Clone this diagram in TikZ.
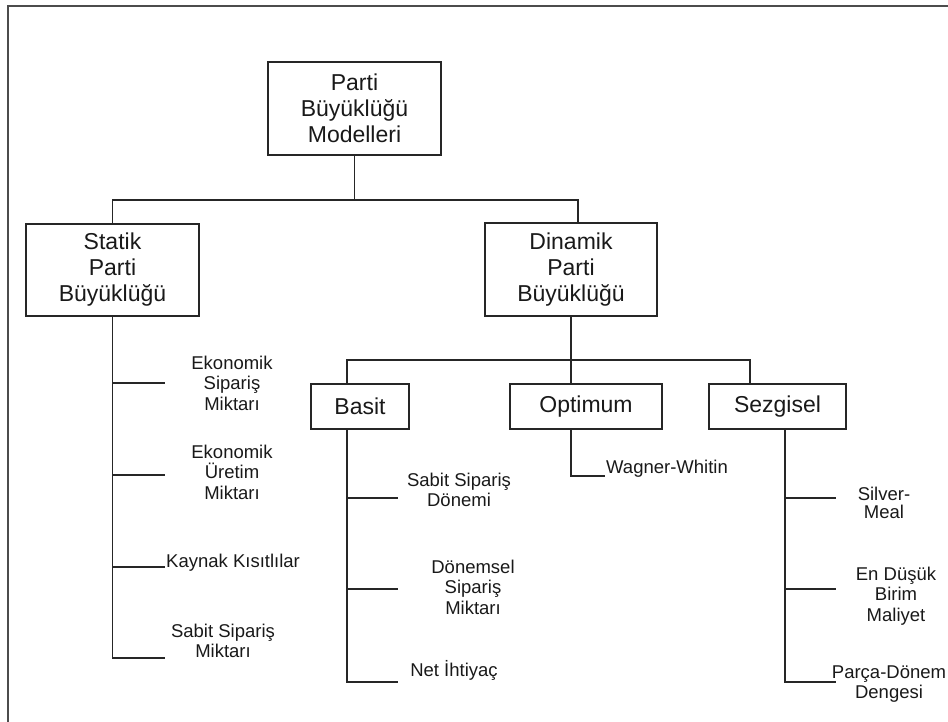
\documentclass[tikz,border=0pt]{standalone}
\usepackage{fontspec}
\setmainfont{Liberation Sans}
\newcommand\boxfont{\fontsize{23}{26}\selectfont}
\newcommand\leaffont{\fontsize{18.5}{20.5}\selectfont}
\begin{document}
\begin{tikzpicture}[x=1pt,y=-1pt,
  frame/.style={draw=black!70, line width=2pt},
  box/.style={draw=black!85, line width=1.3pt, font=\boxfont, text=black!90,
    align=center, inner sep=0pt},
  leaf/.style={font=\leaffont, text=black!90, align=center, inner sep=0pt},
  link/.style={draw=black!85, line width=1.3pt}]
\useasboundingbox (0,0) rectangle (948,721);
% page frame (open at right and bottom)
\draw[frame] (8,730) -- (8,6) -- (960,6);

% boxes
\node[box, minimum width=173pt, minimum height=93pt] (root) at (354.5,108.5) {Parti\\Büyüklüğü\\Modelleri};
\node[box, minimum width=173pt, minimum height=92pt] (statik) at (112.5,270) {Statik\\Parti\\Büyüklüğü};
\node[box, minimum width=172pt, minimum height=93pt] (dinamik) at (571,269.5) {Dinamik\\Parti\\Büyüklüğü};
\node[box, minimum width=98pt, minimum height=45pt] (basit) at (360,406.5) {Basit};
\node[box, minimum width=152pt, minimum height=45pt] (opt) at (586,406.5) {Optimum};
\node[box, minimum width=137pt, minimum height=45pt] (sez) at (777.5,406.5) {Sezgisel};

% upper tree
\coordinate (bus1) at (354.5,200);
\coordinate (bus2) at (571,360);
\draw[link] (root.south) -- (bus1);
\draw[link] (statik.north) |- (bus1) -| ([xshift=7pt]dinamik.north);
\draw[link] (dinamik.south) -- (bus2);
\draw[link] ([xshift=-13pt]basit.north) |- (bus2) -| ([xshift=-27.5pt]sez.north);
\draw[link] (bus2) -- ([xshift=-15pt]opt.north);

% static branch
\coordinate (s1) at (165,383);
\coordinate (s2) at (165,475);
\coordinate (s3) at (165,567);
\coordinate (s4) at (165,658);
\draw[link] (statik.south) |- (s4);
\foreach \c in {s1,s2,s3} \draw[link] (statik.south |- \c) -- (\c);
\node[leaf] (eso) at (232,383) {Ekonomik\\Sipariş\\Miktarı};
\node[leaf] (euo) at (232,472) {Ekonomik\\Üretim\\Miktarı};
\node[leaf, anchor=base west] (kk) at (166,567) {Kaynak Kısıtlılar};
\node[leaf] (ssm) at (223,641) {Sabit Sipariş\\Miktarı};

% simple branch
\coordinate (bsp) at ([xshift=-13pt]basit.south);
\coordinate (b1) at (398,498);
\coordinate (b2) at (398,589);
\coordinate (b3) at (398,682);
\draw[link] (bsp) |- (b3);
\foreach \c in {b1,b2} \draw[link] (bsp |- \c) -- (\c);
\node[leaf] (ssd) at (459,490) {Sabit Sipariş\\Dönemi};
\node[leaf] (dsm) at (473,587) {Dönemsel\\Sipariş\\Miktarı};
\node[leaf] (net) at (454,670) {Net İhtiyaç};

% optimum branch
\coordinate (w1) at (605,476);
\draw[link] ([xshift=-15pt]opt.south) |- (w1);
\node[leaf, anchor=base west] (ww) at (606,473) {Wagner-Whitin};

% heuristic branch
\coordinate (zsp) at ([xshift=7.5pt]sez.south);
\coordinate (z1) at (836,498);
\coordinate (z2) at (836,589);
\coordinate (z3) at (836,682);
\draw[link] (zsp) |- (z3);
\foreach \c in {z1,z2} \draw[link] (zsp |- \c) -- (\c);
\node[leaf, font=\fontsize{18.5}{17.5}\selectfont] (sm) at (884,503) {Silver-\\Meal};
\node[leaf] (edb) at (896,596) {En Düşük\\Birim\\Maliyet};
\node[leaf] (pdd) at (889,684) {Parça-Dönem\\Dengesi};
\end{tikzpicture}
\end{document}
